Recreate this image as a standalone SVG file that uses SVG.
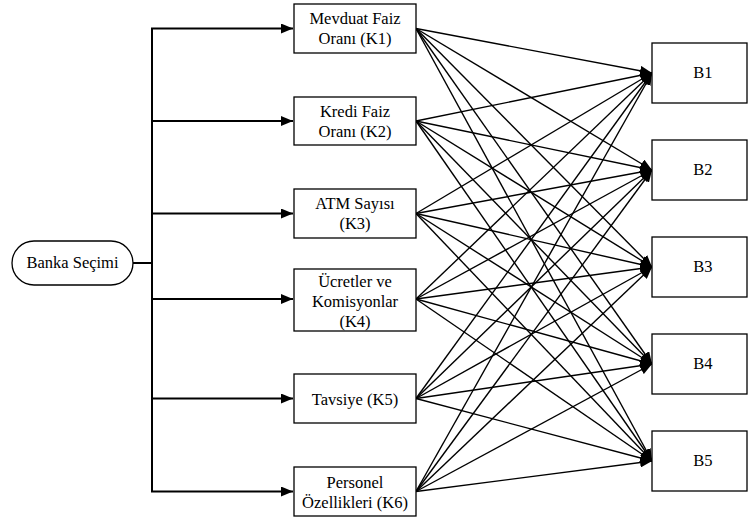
<svg xmlns="http://www.w3.org/2000/svg" width="748" height="519" viewBox="0 0 748 519">
<style>
.box{fill:#fff;stroke:#000;stroke-width:1.3}
.t{font-family:"Liberation Serif","Tinos","Times New Roman","DejaVu Serif",serif;font-size:16.5px;fill:#000;text-anchor:middle}
.ln{fill:none;stroke:#000;stroke-width:1.4}
.tr{fill:none;stroke:#000;stroke-width:2}
</style>
<defs>
<marker id="ah" markerUnits="userSpaceOnUse" markerWidth="12" markerHeight="10" refX="12" refY="5" orient="auto"><path d="M0,0 L12,5 L0,10 z" fill="#000"/></marker>
</defs>
<g id="connectors">
<path class="tr" d="M133,263 H152 M152,28 V491"/>
<line class="tr" x1="151" y1="28.5" x2="293" y2="28.5" marker-end="url(#ah)"/>
<line class="tr" x1="151" y1="121" x2="293" y2="121" marker-end="url(#ah)"/>
<line class="tr" x1="151" y1="213.5" x2="293" y2="213.5" marker-end="url(#ah)"/>
<line class="tr" x1="151" y1="299" x2="293" y2="299" marker-end="url(#ah)"/>
<line class="tr" x1="151" y1="398.5" x2="293" y2="398.5" marker-end="url(#ah)"/>
<line class="tr" x1="151" y1="491.5" x2="293" y2="491.5" marker-end="url(#ah)"/>
<g id="fan">
<line class="ln" x1="416" y1="28.5" x2="652" y2="73" marker-end="url(#ah)"/>
<line class="ln" x1="416" y1="28.5" x2="652" y2="170" marker-end="url(#ah)"/>
<line class="ln" x1="416" y1="28.5" x2="652" y2="267" marker-end="url(#ah)"/>
<line class="ln" x1="416" y1="28.5" x2="652" y2="364" marker-end="url(#ah)"/>
<line class="ln" x1="416" y1="28.5" x2="652" y2="461" marker-end="url(#ah)"/>
<line class="ln" x1="416" y1="121" x2="652" y2="73" marker-end="url(#ah)"/>
<line class="ln" x1="416" y1="121" x2="652" y2="170" marker-end="url(#ah)"/>
<line class="ln" x1="416" y1="121" x2="652" y2="267" marker-end="url(#ah)"/>
<line class="ln" x1="416" y1="121" x2="652" y2="364" marker-end="url(#ah)"/>
<line class="ln" x1="416" y1="121" x2="652" y2="461" marker-end="url(#ah)"/>
<line class="ln" x1="416" y1="213.5" x2="652" y2="73" marker-end="url(#ah)"/>
<line class="ln" x1="416" y1="213.5" x2="652" y2="170" marker-end="url(#ah)"/>
<line class="ln" x1="416" y1="213.5" x2="652" y2="267" marker-end="url(#ah)"/>
<line class="ln" x1="416" y1="213.5" x2="652" y2="364" marker-end="url(#ah)"/>
<line class="ln" x1="416" y1="213.5" x2="652" y2="461" marker-end="url(#ah)"/>
<line class="ln" x1="416" y1="299" x2="652" y2="73" marker-end="url(#ah)"/>
<line class="ln" x1="416" y1="299" x2="652" y2="170" marker-end="url(#ah)"/>
<line class="ln" x1="416" y1="299" x2="652" y2="267" marker-end="url(#ah)"/>
<line class="ln" x1="416" y1="299" x2="652" y2="364" marker-end="url(#ah)"/>
<line class="ln" x1="416" y1="299" x2="652" y2="461" marker-end="url(#ah)"/>
<line class="ln" x1="416" y1="398.5" x2="652" y2="73" marker-end="url(#ah)"/>
<line class="ln" x1="416" y1="398.5" x2="652" y2="170" marker-end="url(#ah)"/>
<line class="ln" x1="416" y1="398.5" x2="652" y2="267" marker-end="url(#ah)"/>
<line class="ln" x1="416" y1="398.5" x2="652" y2="364" marker-end="url(#ah)"/>
<line class="ln" x1="416" y1="398.5" x2="652" y2="461" marker-end="url(#ah)"/>
<line class="ln" x1="416" y1="491.5" x2="652" y2="73" marker-end="url(#ah)"/>
<line class="ln" x1="416" y1="491.5" x2="652" y2="170" marker-end="url(#ah)"/>
<line class="ln" x1="416" y1="491.5" x2="652" y2="267" marker-end="url(#ah)"/>
<line class="ln" x1="416" y1="491.5" x2="652" y2="364" marker-end="url(#ah)"/>
<line class="ln" x1="416" y1="491.5" x2="652" y2="461" marker-end="url(#ah)"/>
</g>
</g>
<g id="banka"><rect class="box" x="12" y="241" width="121" height="44" rx="22" ry="22"/><text class="t" x="72.5" y="268">Banka Seçimi</text></g>
<g id="k1"><rect class="box" x="294" y="4" width="122" height="49"/><text class="t" x="355" y="24">Mevduat Faiz</text><text class="t" x="355" y="44">Oranı (K1)</text></g>
<g id="k2"><rect class="box" x="294" y="97" width="122" height="48"/><text class="t" x="355" y="117">Kredi Faiz</text><text class="t" x="355" y="137">Oranı (K2)</text></g>
<g id="k3"><rect class="box" x="294" y="189" width="122" height="49"/><text class="t" x="355" y="209">ATM Sayısı</text><text class="t" x="355" y="229">(K3)</text></g>
<g id="k4"><rect class="box" x="294" y="269" width="122" height="62"/><text class="t" x="355" y="287">Ücretler ve</text><text class="t" x="355" y="307">Komisyonlar</text><text class="t" x="355" y="327">(K4)</text></g>
<g id="k5"><rect class="box" x="294" y="374" width="122" height="49"/><text class="t" x="355" y="405">Tavsiye (K5)</text></g>
<g id="k6"><rect class="box" x="294" y="467" width="122" height="49"/><text class="t" x="355" y="488">Personel</text><text class="t" x="355" y="508">Özellikleri (K6)</text></g>
<g id="b1"><rect class="box" x="652" y="43" width="95" height="60"/><text class="t" x="703" y="78">B1</text></g>
<g id="b2"><rect class="box" x="652" y="140" width="95" height="60"/><text class="t" x="703" y="175">B2</text></g>
<g id="b3"><rect class="box" x="652" y="237" width="95" height="60"/><text class="t" x="703" y="272">B3</text></g>
<g id="b4"><rect class="box" x="652" y="334" width="95" height="60"/><text class="t" x="703" y="369">B4</text></g>
<g id="b5"><rect class="box" x="652" y="431" width="95" height="60"/><text class="t" x="703" y="466">B5</text></g>
</svg>
